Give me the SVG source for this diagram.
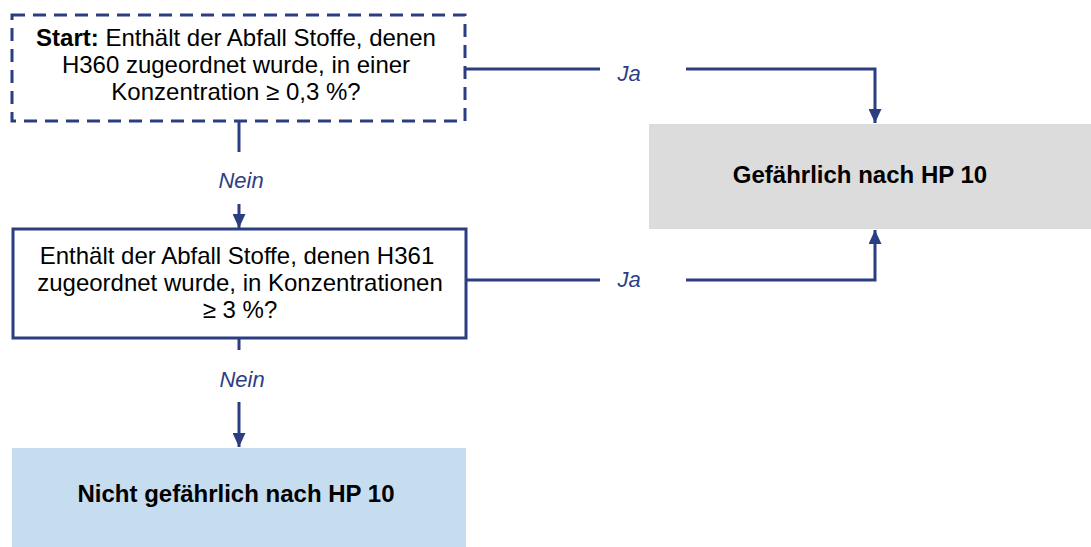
<svg xmlns="http://www.w3.org/2000/svg" width="1091" height="547" viewBox="0 0 1091 547">
<style>
.t{font-family:"Liberation Sans",Arial,sans-serif;font-size:24px;fill:#000;text-anchor:middle}
.b{font-weight:bold}
.lbl{font-family:"Liberation Sans",Arial,sans-serif;font-size:22px;font-style:italic;fill:#2c3e82;text-anchor:middle}
.c{fill:none;stroke:#2c3e82;stroke-width:3}
</style>
<defs>
<marker id="ah" markerUnits="userSpaceOnUse" markerWidth="14" markerHeight="13" refX="14" refY="6.5" orient="auto">
<path d="M0,0 L14,6.5 L0,13 z" fill="#2c3e82"/>
</marker>
</defs>
<rect width="1091" height="547" fill="#fff"/>
<g id="connectors">
<path class="c" d="M239,121 V152"/>
<path class="c" d="M239,204 V228" marker-end="url(#ah)"/>
<text class="lbl" x="241" y="188">Nein</text>
<path class="c" d="M239,338 V350"/>
<path class="c" d="M239,402 V447" marker-end="url(#ah)"/>
<text class="lbl" x="242" y="387">Nein</text>
<path class="c" d="M466,69 H600"/>
<path class="c" d="M686,69 H875 V123" marker-end="url(#ah)"/>
<text class="lbl" x="629" y="81">Ja</text>
<path class="c" d="M466,280 H600"/>
<path class="c" d="M686,280 H875 V230" marker-end="url(#ah)"/>
<text class="lbl" x="629" y="287">Ja</text>
</g>
<g id="start">
<rect x="12" y="15" width="453" height="106" fill="#fff" stroke="#2c3e82" stroke-width="3" stroke-dasharray="13 8"/>
<text class="t" x="236" y="46"><tspan class="b">Start:</tspan> Enthält der Abfall Stoffe, denen</text>
<text class="t" x="236" y="73">H360 zugeordnet wurde, in einer</text>
<text class="t" x="236" y="100">Konzentration ≥ 0,3 %?</text>
</g>
<g id="q2">
<rect x="13" y="229" width="453" height="109" fill="#fff" stroke="#2c3e82" stroke-width="3"/>
<text class="t" x="237" y="264">Enthält der Abfall Stoffe, denen H361</text>
<text class="t" x="240" y="291">zugeordnet wurde, in Konzentrationen</text>
<text class="t" x="240" y="318">≥ 3 %?</text>
</g>
<g id="gefaehrlich">
<rect x="649" y="124" width="442" height="105" fill="#dcdcdc"/>
<text class="t b" x="860" y="183">Gefährlich nach HP 10</text>
</g>
<g id="nicht">
<rect x="12" y="448" width="454" height="99" fill="#c6dcef"/>
<text class="t b" x="236" y="502">Nicht gefährlich nach HP 10</text>
</g>
</svg>
